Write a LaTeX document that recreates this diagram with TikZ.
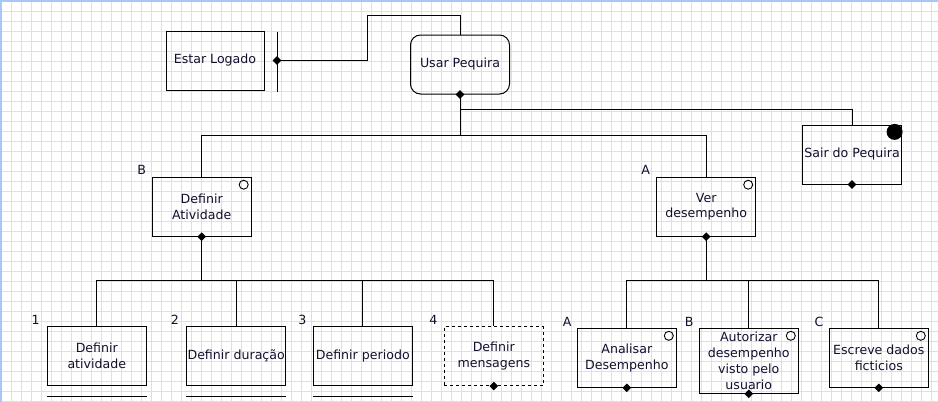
\documentclass[tikz,border=0pt]{standalone}
\usepackage{fontspec}
\setmainfont{DejaVu Sans}
\definecolor{gridc}{RGB}{222,220,240}
\definecolor{bluec}{RGB}{168,198,248}
\definecolor{txtc}{RGB}{20,15,45}
\begin{document}
\begin{tikzpicture}[x=1pt,y=-1pt,
  every node/.style={text=txtc},
  box/.style={draw,line width=1pt,rectangle,minimum width=99pt,minimum height=59pt,inner sep=0pt,align=center,font=\fontsize{12.6}{15.5}\selectfont},
  lbl/.style={font=\fontsize{12.6}{15}\selectfont,inner sep=0pt},
  conn/.style={line width=1pt},
  gl/.style={gridc,line width=1pt}]
\useasboundingbox (0,0) rectangle (938,402);
\fill[white] (0,0) rectangle (938,402);
\foreach \x in {11,21,...,931} \draw[gl] (\x,0) -- (\x,402);
\foreach \y in {11,21,...,401} \draw[gl] (0,\y) -- (938,\y);
\draw[bluec,line width=2.5pt] (1.2,402) -- (1.2,1.2) -- (938,1.2);

% nodes
\node[box,minimum width=98pt] (el) at (215,60.5) {Estar Logado};
\node[box,rounded corners=10pt] (ua) at (460,64.5) {Usar Pequira};
\node[box] (sp) at (852,154.5) {Sair do Pequira};
\node[box] (da) at (201.7,206.7) {Definir\\Atividade};
\node[box] (vd) at (706.2,206.7) {Ver\\desempenho};
\node[box] (c1) at (96.8,356) {Definir\\atividade};
\node[box] (c2) at (236.2,356) {Definir duração};
\node[box] (c3) at (362.8,356) {Definir periodo};
\node[box,dashed] (c4) at (493.8,356) {Definir\\mensagens};
\node[box] (a1) at (626.8,357.8) {Analisar\\Desempenho};
\node[box,minimum height=65pt,font=\fontsize{12.6}{16}\selectfont] (a2) at (748.8,360.8) {Autorizar\\desempenho\\visto pelo\\usuario};
\node[box] (a3) at (878.8,357.8) {Escreve dados\\ficticios};

% labels
\node[lbl] (lb) at (141.7,170) {B};
\node[lbl] (la) at (645.7,170) {A};
\node[lbl] (l1) at (35.7,320) {1};
\node[lbl] (l2) at (175,320) {2};
\node[lbl] (l3) at (302.3,320) {3};
\node[lbl] (l4) at (433.3,320) {4};
\node[lbl] (lA) at (567.3,321.7) {A};
\node[lbl] (lB) at (689.3,321.7) {B};
\node[lbl] (lC) at (819,321.7) {C};

% coordinates
\coordinate (elc) at ([xshift=12.5pt]el.east);
\coordinate (j1) at (460,135);
\coordinate (j2) at (460,109);
\coordinate (b1) at (201.7,280);
\coordinate (b2) at (706.2,280);

% connectors
\draw[conn] ([xshift=12.5pt,yshift=-1pt]el.north east) -- ([xshift=12.5pt,yshift=-1pt]el.south east);
\draw[conn] (elc) -| (367,15) -| (ua.north);
\draw[conn] (ua.south) -- (j1);
\draw[conn] (da.north) |- (j1);
\draw[conn] (vd.north) |- (j1);
\draw[conn] (sp.north) |- (j2);
\draw[conn] (da.south) -- (b1);
\foreach \n in {c1,c2,c3,c4} \draw[conn] (\n.north) |- (b1);
\draw[conn] (vd.south) -- (b2);
\foreach \n in {a1,a2,a3} \draw[conn] (\n.north) |- (b2);

% underlines
\foreach \n in {c1,c2,c3} \draw[line width=1pt] ([yshift=-10pt]\n.south west) -- ([yshift=-10pt]\n.south east);

% small circles
\foreach \n in {da,vd,a1,a2,a3} \draw[line width=0.9pt] ([xshift=-8pt,yshift=-8pt]\n.north east) circle (4.5pt);
\fill ([xshift=-7.4pt,yshift=-7.4pt]sp.north east) circle (8pt);

% dots
\foreach \p in {elc,ua.south,sp.south,da.south,vd.south,c4.south,a1.south,a2.south,a3.south}
  \fill (\p) +(0,4.3) -- +(4.3,0) -- +(0,-4.3) -- +(-4.3,0) -- cycle;
\end{tikzpicture}
\end{document}
